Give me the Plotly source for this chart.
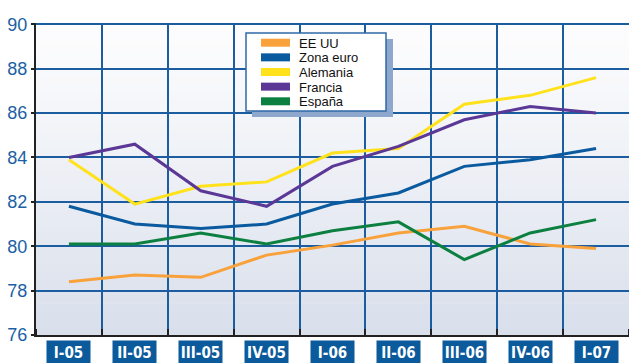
import plotly.graph_objects as go

categories = ["I-05", "II-05", "III-05", "IV-05", "I-06", "II-06", "III-06", "IV-06", "I-07"]
series_names = ["EE UU", "Zona euro", "Alemania", "Francia", "España"]
ee_uu = [78.4, 78.7, 78.6, 79.6, 80.05, 80.6, 80.9, 80.1, 79.9]
zona_euro = [81.8, 81.0, 80.8, 81.0, 81.9, 82.4, 83.6, 83.9, 84.4]
alemania = [83.9, 81.9, 82.7, 82.9, 84.2, 84.4, 86.4, 86.8, 87.6]
francia = [84.0, 84.6, 82.5, 81.8, 83.6, 84.5, 85.7, 86.3, 86.0]
espana = [80.1, 80.1, 80.6, 80.1, 80.7, 81.1, 79.4, 80.6, 81.2]
series_values = [ee_uu, zona_euro, alemania, francia, espana]
colors = ["#f9a23b", "#0a5aa0", "#ffe11c", "#5b3796", "#0c8040"]
y_ticks = [76, 78, 80, 82, 84, 86, 88, 90]

W, H = 629, 363
ML, MR, MT, MB = 36, 0, 23, 28
PW, PH = W - ML - MR, H - MT - MB


def px2x(px):
    return (px - ML) / PW


def py2y(py):
    return (H - MB - py) / PH


def mix(c1, c2, t):
    a = [int(c1[i:i + 2], 16) for i in (1, 3, 5)]
    b = [int(c2[i:i + 2], 16) for i in (1, 3, 5)]
    return "#%02x%02x%02x" % tuple(round(a[j] + (b[j] - a[j]) * t) for j in range(3))


GRID = "#1c5d9f"
xs = list(range(len(categories)))

fig = go.Figure()

for name, vals, col in zip(series_names, series_values, colors):
    fig.add_trace(go.Scatter(x=xs, y=vals, mode="lines", name=name,
                             line=dict(color=col, width=3), showlegend=False))

# background gradient (bands below gridlines)
NB = 40
for k in range(NB):
    t = k / (NB - 1)
    fig.add_shape(type="rect", xref="paper", yref="paper", layer="below",
                  x0=0, x1=1, y0=1 - (k + 1) / NB, y1=1 - k / NB + 0.002,
                  fillcolor=mix("#fdfdfe", "#d9dfeb", t ** 1.1), line=dict(width=0))

fig.update_layout(
    width=W, height=H,
    margin=dict(l=ML, r=MR, t=MT, b=MB),
    paper_bgcolor="white", plot_bgcolor="white",
    xaxis=dict(
        range=[-0.5, len(categories) - 0.5], tickvals=xs, showticklabels=False,
        ticks="", showgrid=False, zeroline=False,
        showline=True, linecolor="#222222", linewidth=2,
        minor=dict(tickvals=[i + 0.5 for i in range(-1, len(categories))],
                   showgrid=True, gridcolor=GRID, gridwidth=2,
                   ticks="inside", ticklen=6, tickcolor="#222222", tickwidth=2),
    ),
    yaxis=dict(
        range=[76, 90.06], tickvals=y_ticks, showgrid=True, gridcolor=GRID, gridwidth=2,
        zeroline=False, showline=True, linecolor="#222222", linewidth=2,
        ticks="outside", ticklen=3, tickcolor="#222222", tickwidth=2,
        tickfont=dict(family="Liberation Sans, Arial", size=18, color="#1b5fa4"),
    ),
    showlegend=False,
)

# category labels in blue boxes
for i, c in enumerate(categories):
    fig.add_annotation(
        x=i, y=0, xref="x", yref="paper", yanchor="top", yshift=-5,
        text="<b>%s</b>" % c, showarrow=False, bgcolor="#0b5a9c",
        width=43, height=23, borderpad=0, valign="middle",
        font=dict(family="DejaVu Sans Condensed", size=15, color="white"),
    )

# manual legend
fig.add_shape(type="rect", xref="paper", yref="paper",
              x0=px2x(252), x1=px2x(393), y0=py2y(117), y1=py2y(39),
              fillcolor="#8ea7cd", line=dict(width=0), layer="above")
fig.add_shape(type="rect", xref="paper", yref="paper",
              x0=px2x(246), x1=px2x(386), y0=py2y(111), y1=py2y(33),
              fillcolor="white", line=dict(color="#2e6aa8", width=1.5), layer="above")
for k, (name, col) in enumerate(zip(series_names, colors)):
    cy = 42.7 + k * 14.65
    fig.add_shape(type="rect", xref="paper", yref="paper",
                  x0=px2x(261), x1=px2x(290), y0=py2y(cy + 4), y1=py2y(cy - 4),
                  fillcolor=col, line=dict(width=0), layer="above")
    fig.add_annotation(x=px2x(298), y=py2y(cy), xref="paper", yref="paper",
                       xanchor="left", yanchor="middle", text=name, showarrow=False,
                       height=14, borderpad=0, valign="middle",
                       font=dict(family="Liberation Sans, Arial", size=13, color="#111111"))

fig.write_html("out.html")
